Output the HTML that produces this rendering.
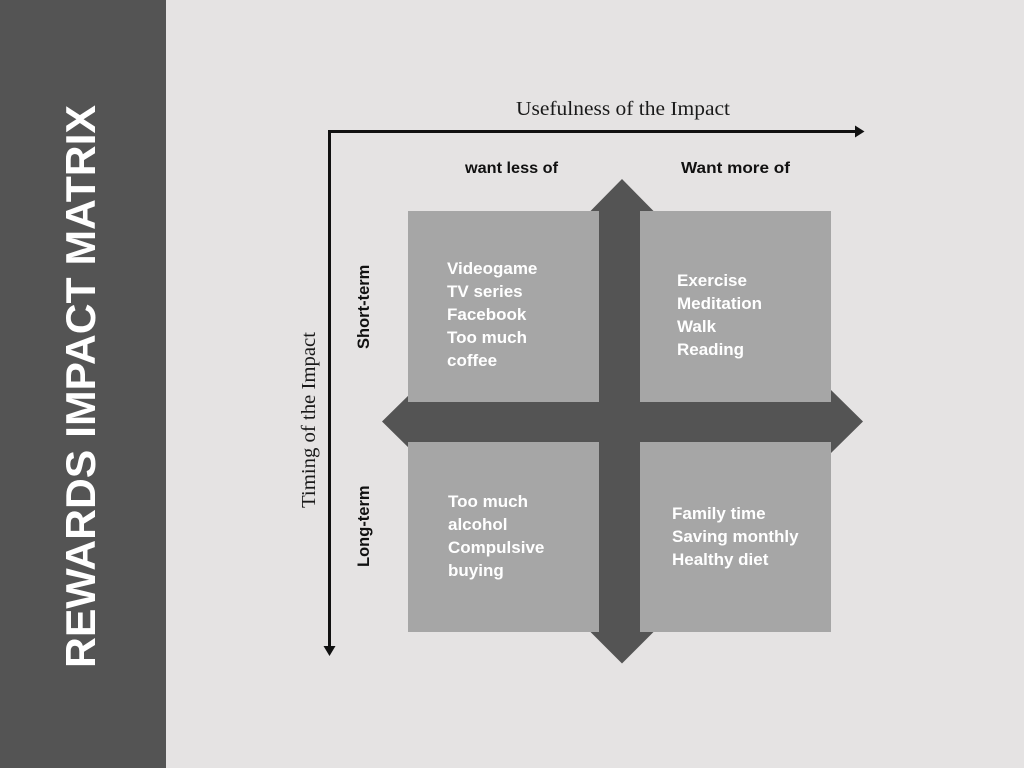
<!DOCTYPE html>
<html>
<head>
<meta charset="utf-8">
<style>
  html, body { margin: 0; padding: 0; width: 1024px; height: 768px; overflow: hidden; background: #e5e3e3; }
  svg { display: block; }
  .sans { font-family: "Liberation Sans", "DejaVu Sans", sans-serif; font-weight: bold; }
  .serif { font-family: "Liberation Serif", "DejaVu Serif", serif; }
</style>
</head>
<body>
<svg width="1024" height="768" viewBox="0 0 1024 768" xmlns="http://www.w3.org/2000/svg">
  <rect x="0" y="0" width="1024" height="768" fill="#e5e3e3"/>
  <!-- sidebar -->
  <rect x="0" y="0" width="166" height="768" fill="#545454"/>
  <text class="sans" transform="translate(95,668) rotate(-90)" font-size="42" fill="#ffffff" textLength="563" lengthAdjust="spacingAndGlyphs">REWARDS IMPACT MATRIX</text>

  <!-- axes -->
  <text class="serif" x="516" y="115" font-size="20" fill="#1a1a1a" textLength="214" lengthAdjust="spacingAndGlyphs">Usefulness of the Impact</text>
  <text class="serif" transform="translate(315,508) rotate(-90)" font-size="20" fill="#1a1a1a" textLength="176" lengthAdjust="spacingAndGlyphs">Timing of the Impact</text>

  <line x1="328" y1="131.5" x2="857" y2="131.5" stroke="#111" stroke-width="3"/>
  <polygon points="855,125.5 864.5,131.5 855,137.5" fill="#111"/>
  <line x1="329.5" y1="130" x2="329.5" y2="648" stroke="#111" stroke-width="3"/>
  <polygon points="323.5,646 335.5,646 329.5,656" fill="#111"/>

  <!-- column headers -->
  <text class="sans" x="465" y="173" font-size="16" fill="#111" textLength="93" lengthAdjust="spacingAndGlyphs">want less of</text>
  <text class="sans" x="681" y="173" font-size="16" fill="#111" textLength="109" lengthAdjust="spacingAndGlyphs">Want more of</text>

  <!-- row headers -->
  <text class="sans" transform="translate(369,349) rotate(-90)" font-size="16.5" fill="#111">Short-term</text>
  <text class="sans" transform="translate(369,567) rotate(-90)" font-size="16.5" fill="#111">Long-term</text>

  <!-- cross -->
  <rect x="599" y="211" width="41" height="421" fill="#545454"/>
  <rect x="408" y="402" width="423" height="40" fill="#545454"/>
  <polygon points="590.5,211 622,179 653.5,211" fill="#545454"/>
  <polygon points="590.5,632 622,663.5 653.5,632" fill="#545454"/>
  <polygon points="830,389 863,421.5 830,454" fill="#545454"/>
  <polygon points="415,389 382,421.5 415,454" fill="#545454"/>

  <!-- boxes -->
  <rect x="408" y="211" width="191" height="191" fill="#a6a6a6"/>
  <rect x="640" y="211" width="191" height="191" fill="#a6a6a6"/>
  <rect x="408" y="442" width="191" height="190" fill="#a6a6a6"/>
  <rect x="640" y="442" width="191" height="190" fill="#a6a6a6"/>

  <!-- box text -->
  <g class="sans" font-size="17" fill="#ffffff">
    <text x="447" y="274">Videogame</text>
    <text x="447" y="297">TV series</text>
    <text x="447" y="320">Facebook</text>
    <text x="447" y="343">Too much</text>
    <text x="447" y="366">coffee</text>

    <text x="677" y="286">Exercise</text>
    <text x="677" y="309">Meditation</text>
    <text x="677" y="332">Walk</text>
    <text x="677" y="355">Reading</text>

    <text x="448" y="507">Too much</text>
    <text x="448" y="530">alcohol</text>
    <text x="448" y="553">Compulsive</text>
    <text x="448" y="576">buying</text>

    <text x="672" y="519">Family time</text>
    <text x="672" y="542">Saving monthly</text>
    <text x="672" y="565">Healthy diet</text>
  </g>
</svg>
</body>
</html>
